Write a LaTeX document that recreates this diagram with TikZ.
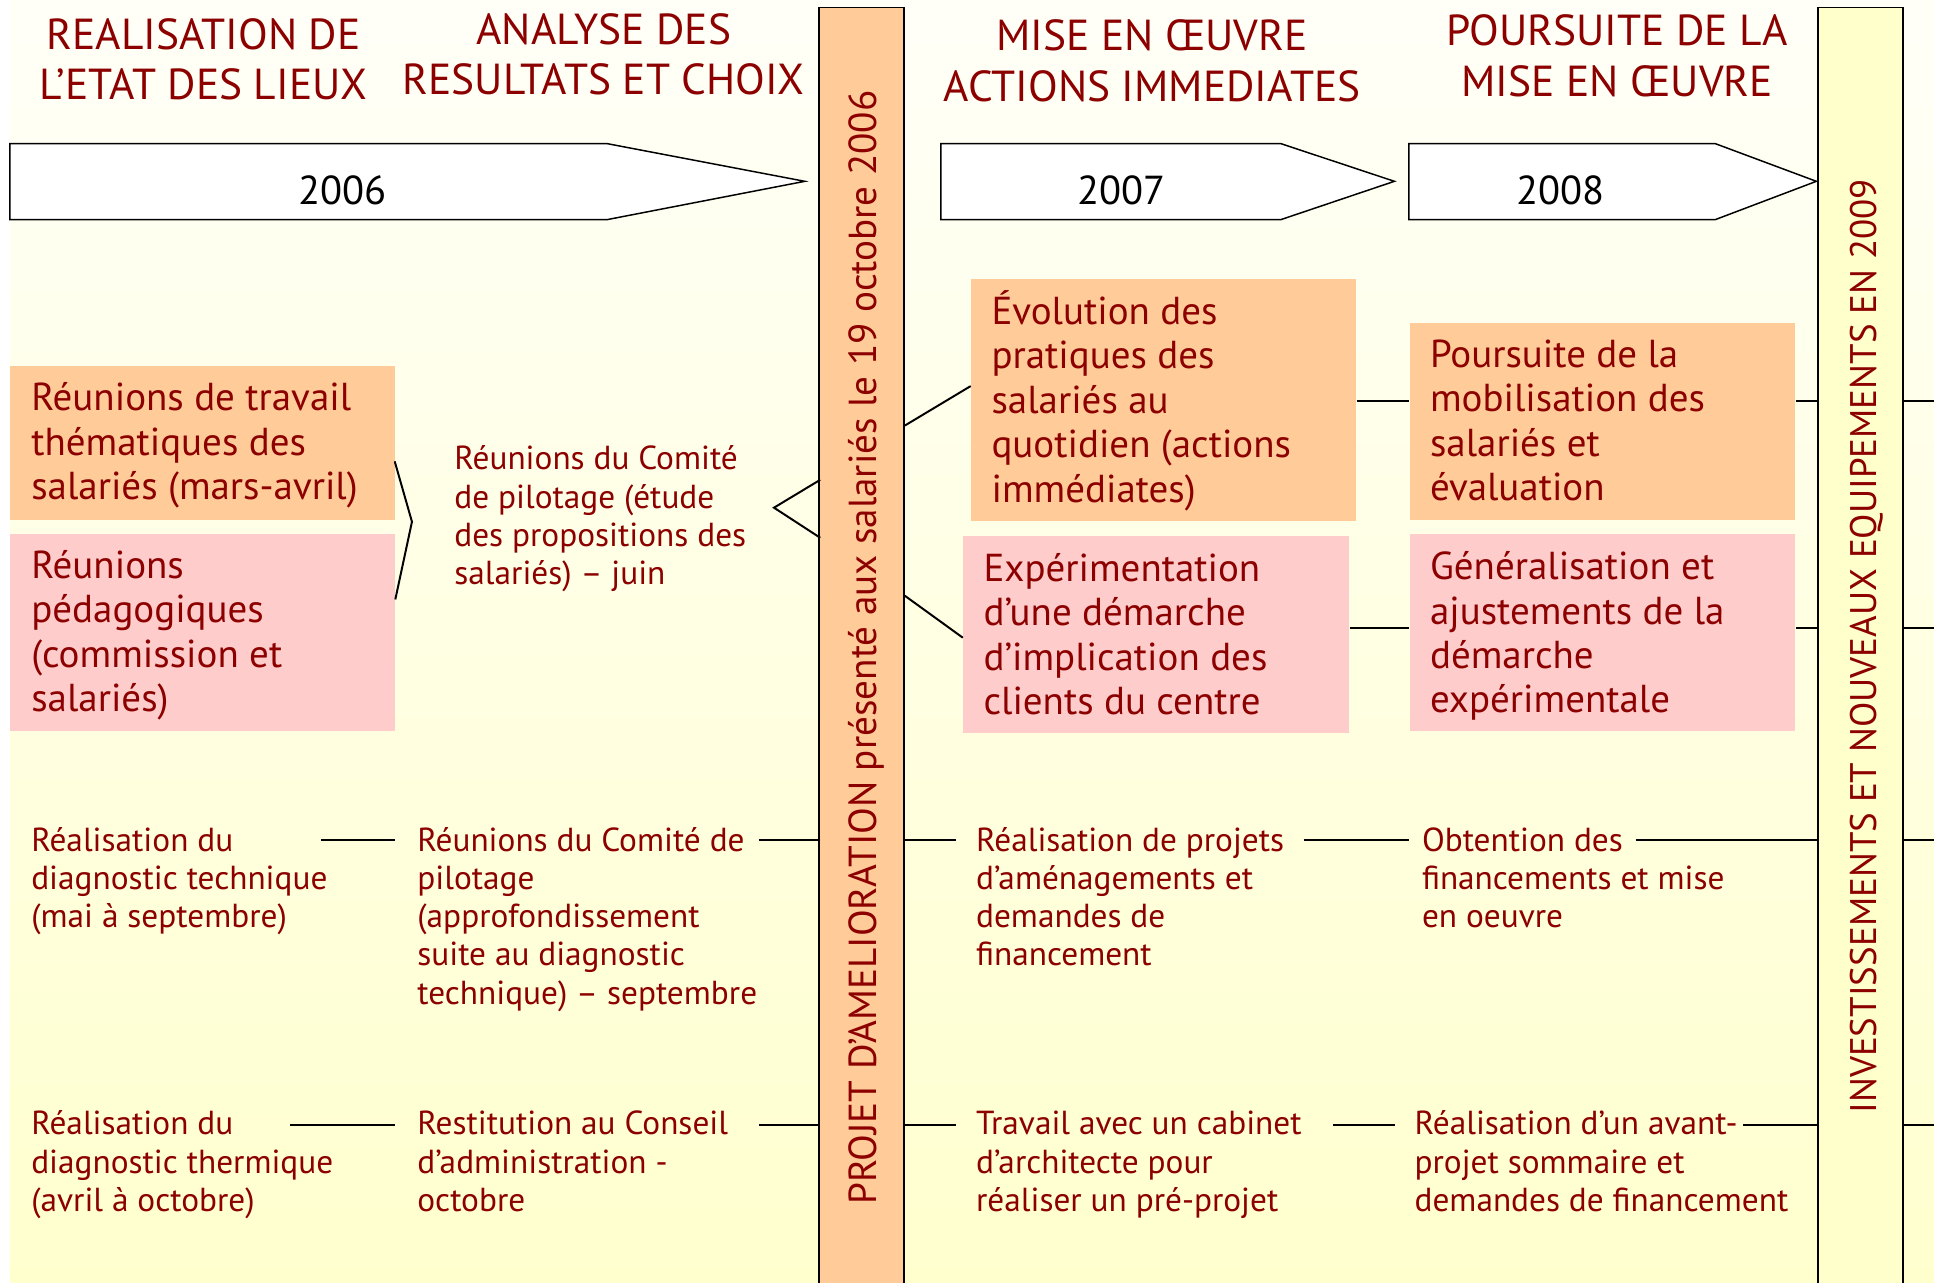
\documentclass[tikz,border=0pt]{standalone}
\usepackage{fontspec}
\setmainfont{PT Sans}
\usetikzlibrary{fit,calc}
\definecolor{dred}{RGB}{140,0,0}
\definecolor{orangebox}{RGB}{255,204,153}
\definecolor{pinkbox}{RGB}{255,204,204}
\definecolor{ylw}{RGB}{255,255,204}
\definecolor{bgtop}{RGB}{255,255,248}
\definecolor{bgbot}{RGB}{255,255,206}
\newcommand\hdrF{\fontsize{17.6}{20.5}\selectfont}
\newcommand\boxF{\fontsize{15.8}{18}\selectfont}
\newcommand\smF{\fontsize{13.5}{15.5}\selectfont}
\newcommand\yrF{\fontsize{16.4}{17}\selectfont}
\newcommand\vtF{\fontsize{15.85}{18}\selectfont}
\newcommand\vtFb{\fontsize{15.0}{18}\selectfont}
\begin{document}
\begin{tikzpicture}[x=0.5pt,y=-0.5pt,
  hdr/.style={font=\hdrF, text=dred, align=center, anchor=base, inner sep=0},
  boxtxt/.style={font=\boxF, text=dred, align=left, anchor=base west, inner sep=0},
  smtxt/.style={font=\smF, text=dred, align=left, anchor=base west, inner sep=0},
  yrtxt/.style={font=\yrF, text=black, anchor=base, inner sep=0},
  vtxt/.style={text=dred, anchor=base, rotate=90, inner sep=0},
  obox/.style={fill=orangebox, draw=none, inner sep=0},
  pbox/.style={fill=pinkbox, draw=none, inner sep=0},
  barA/.style={fill=orangebox, draw=black, line width=0.6pt, inner sep=0},
  barB/.style={fill=ylw, draw=black, line width=0.6pt, inner sep=0},
  arrowbox/.style={fill=white, draw=black, line width=0.6pt},
  conn/.style={draw=black, line width=0.8pt}
]
\useasboundingbox (0,0) rectangle (1568,1040);
% background
\shade[top color=bgtop, bottom color=bgbot, middle color=bgtop!50!bgbot] (8,0) rectangle (1568,1040);

% headers (anchor = baseline of last line)
\node[hdr] (h1) at (165,81) {REALISATION DE\\L’ETAT DES LIEUX};
\node[hdr] (h2) at (489.5,77) {ANALYSE DES\\RESULTATS ET CHOIX};
\node[hdr] (h3) at (934,82) {MISE EN ŒUVRE\\ACTIONS IMMEDIATES};
\node[hdr] (h4) at (1311,78) {POURSUITE DE LA\\MISE EN ŒUVRE};

% year arrows
\draw[arrowbox] (8,116.5) -- (492.5,116.5) -- (652.5,147) -- (492.5,178) -- (8,178) -- cycle;
\draw[arrowbox] (762.8,116.5) -- (1038.6,116.5) -- (1130.5,147) -- (1038.6,178) -- (762.8,178) -- cycle;
\draw[arrowbox] (1142.3,116.5) -- (1390.8,116.5) -- (1472.6,147) -- (1390.8,178) -- (1142.3,178) -- cycle;
\node[yrtxt] (y6) at (278,166) {2006};
\node[yrtxt] (y7) at (909,166) {2007};
\node[yrtxt] (y8) at (1265,166) {2008};

% vertical bars
\node[barA, fit={(664,6) (733,1050)}] (bar1) {};
\node[barB, fit={(1474,6) (1543,1050)}] (bar2) {};
\node[vtxt, font=\vtF] (v1) at (711,525) {PROJET D’AMELIORATION présenté aux salariés le 19 octobre 2006};
\node[vtxt, font=\vtFb] (v2) at (1521,524) {INVESTISSEMENTS ET NOUVEAUX EQUIPEMENTS EN 2009};

% coloured boxes
\node[obox, fit={(8,297) (320.5,421.5)}] (o1) {};
\node[pbox, fit={(8,433) (320.5,592.5)}] (p1) {};
\node[obox, fit={(787.4,225.8) (1099.5,422)}] (o2) {};
\node[pbox, fit={(781,434.4) (1093.7,594.5)}] (p2) {};
\node[obox, fit={(1142.8,261.6) (1455.5,421.5)}] (o3) {};
\node[pbox, fit={(1142.8,433) (1455.5,592.5)}] (p3) {};

\node[boxtxt] (to1) at (25,405) {Réunions de travail\\thématiques des\\salariés (mars-avril)};
\node[boxtxt] (tp1) at (25,577) {Réunions\\pédagogiques\\(commission et\\salariés)};
\node[boxtxt] (to2) at (803.5,407) {Évolution des\\pratiques des\\salariés au\\quotidien (actions\\immédiates)};
\node[boxtxt] (tp2) at (797,579.5) {Expérimentation\\d’une démarche\\d’implication des\\clients du centre};
\node[boxtxt] (to3) at (1159,406) {Poursuite de la\\mobilisation des\\salariés et\\évaluation};
\node[boxtxt] (tp3) at (1159,578) {Généralisation et\\ajustements de la\\démarche\\expérimentale};

% small texts
\node[smtxt] (c1) at (368,474) {Réunions du Comité\\de pilotage (étude\\des propositions des\\salariés) – juin};
\node[smtxt] (r31) at (25,752) {Réalisation du\\diagnostic technique\\(mai à septembre)};
\node[smtxt] (r32) at (338,814) {Réunions du Comité de\\pilotage\\(approfondissement\\suite au diagnostic\\technique) – septembre};
\node[smtxt] (r33) at (791,783) {Réalisation de projets\\d’aménagements et\\demandes de\\financement};
\node[smtxt] (r34) at (1152.5,752) {Obtention des\\financements et mise\\en oeuvre};
\node[smtxt] (r41) at (25,982) {Réalisation du\\diagnostic thermique\\(avril à octobre)};
\node[smtxt] (r42) at (338,982) {Restitution au Conseil\\d’administration -\\octobre};
\node[smtxt] (r43) at (791,982) {Travail avec un cabinet\\d’architecte pour\\réaliser un pré-projet};
\node[smtxt] (r44) at (1146.5,982) {Réalisation d’un avant-\\projet sommaire et\\demandes de financement};

% level coordinates and free ends
\coordinate (L1) at (0,325);
\coordinate (L2) at (0,509);
\coordinate (L3) at (0,681);
\coordinate (L4) at (0,912);
\coordinate (E1) at (1568,325);
\coordinate (E2) at (1568,509);
\coordinate (E3) at (1568,681);
\coordinate (E4) at (1568,912);

% brace and chevron
\coordinate (bA) at (320,374);
\coordinate (bB) at (334,423);
\coordinate (bC) at (320.5,486);
\draw[conn] (bA) -- (bB) -- (bC);
\coordinate (cA) at (665,389);
\coordinate (cB) at (627.5,411.6);
\coordinate (cC) at (665,436);
\draw[conn] (cA) -- (cB) -- (cC);

% fan out from bar 1
\draw[conn] (bar1.east |- 0,345) -- (o2.west |- 0,313);
\draw[conn] (bar1.east |- 0,483) -- (p2.west |- 0,517);

% box links
\draw[conn] (o2.east |- L1) -- (o3.west |- L1);
\draw[conn] (o3.east |- L1) -- (bar2.west |- L1);
\draw[conn] (bar2.east |- L1) -- (E1);
\draw[conn] (p2.east |- L2) -- (p3.west |- L2);
\draw[conn] (p3.east |- L2) -- (bar2.west |- L2);
\draw[conn] (bar2.east |- L2) -- (E2);

% row 3 links
\coordinate (a31) at (260,681);
\coordinate (a32) at (320.5,681);
\coordinate (a33) at (615,681);
\coordinate (a34) at (775,681);
\coordinate (a35) at (1057,681);
\coordinate (a36) at (1142,681);
\coordinate (a37) at (1326,681);
\draw[conn] (a31) -- (a32);
\draw[conn] (a33) -- (bar1.west |- L3);
\draw[conn] (bar1.east |- L3) -- (a34);
\draw[conn] (a35) -- (a36);
\draw[conn] (a37) -- (bar2.west |- L3);
\draw[conn] (bar2.east |- L3) -- (E3);

% row 4 links
\coordinate (a41) at (235,912);
\coordinate (a42) at (320.5,912);
\coordinate (a43) at (615,912);
\coordinate (a44) at (775,912);
\coordinate (a45) at (1081,912);
\coordinate (a46) at (1130.6,912);
\coordinate (a47) at (1413,912);
\draw[conn] (a41) -- (a42);
\draw[conn] (a43) -- (bar1.west |- L4);
\draw[conn] (bar1.east |- L4) -- (a44);
\draw[conn] (a45) -- (a46);
\draw[conn] (a47) -- (bar2.west |- L4);
\draw[conn] (bar2.east |- L4) -- (E4);
\end{tikzpicture}
\end{document}
